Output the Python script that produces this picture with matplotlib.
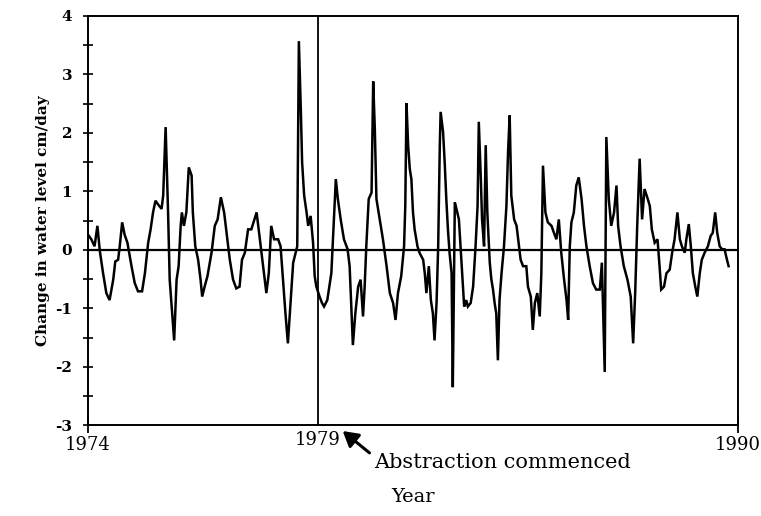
import numpy as np
import matplotlib
matplotlib.use("Agg")
import matplotlib.pyplot as plt
from matplotlib.ticker import MultipleLocator

# years after 1974 and change in water level (cm/day)
t = [0.02, 0.08, 0.16, 0.23, 0.29, 0.37, 0.45, 0.53, 0.62, 0.67, 0.74, 0.78, 0.84, 0.90, 0.97,
     1.07, 1.15, 1.23, 1.33, 1.40, 1.48, 1.54, 1.60, 1.66, 1.72, 1.81, 1.85, 1.91,
     1.97, 2.01, 2.07, 2.12, 2.18, 2.23, 2.28, 2.31, 2.36, 2.42, 2.48, 2.55, 2.58, 2.64, 2.71,
     2.77, 2.81, 2.87, 2.94, 3.04, 3.12, 3.19, 3.27, 3.35, 3.43, 3.49, 3.57, 3.65, 3.73, 3.79,
     3.86, 3.94,
     4.02, 4.15, 4.23, 4.31, 4.39, 4.45, 4.51, 4.58, 4.68, 4.74, 4.80, 4.86, 4.92, 4.99, 5.05,
     5.11, 5.15, 5.19, 5.24, 5.27, 5.32, 5.38, 5.42, 5.48, 5.54, 5.58, 5.62, 5.70, 5.76, 5.81,
     5.89,
     5.99, 6.06, 6.10, 6.15, 6.22, 6.30, 6.39, 6.44, 6.48, 6.52, 6.58, 6.65, 6.71, 6.77, 6.81,
     6.85, 6.91, 6.98, 7.02, 7.06, 7.10, 7.18, 7.26, 7.35, 7.43, 7.51, 7.57, 7.63, 7.71, 7.78,
     7.81, 7.84,
     7.88, 7.92, 7.96, 8.00, 8.04, 8.11, 8.16, 8.25, 8.29, 8.33, 8.39, 8.44, 8.49, 8.53, 8.58,
     8.62, 8.66, 8.68, 8.74, 8.78, 8.82, 8.86, 8.90, 8.95, 8.98, 9.03, 9.07, 9.13, 9.17, 9.21,
     9.26, 9.31, 9.35, 9.42, 9.48, 9.54, 9.59, 9.62, 9.67, 9.70, 9.75, 9.79, 9.83,
     9.89, 9.93, 9.97, 10.01, 10.05, 10.09, 10.13, 10.18, 10.24, 10.30, 10.34, 10.38, 10.42,
     10.49, 10.55, 10.59, 10.65, 10.71, 10.79, 10.83, 10.90, 10.95, 11.00, 11.06, 11.12, 11.16,
     11.20, 11.26, 11.32, 11.41, 11.47, 11.53, 11.59, 11.65, 11.72, 11.78,
     11.82, 11.86, 11.90, 11.96, 12.02, 12.08, 12.15, 12.21, 12.27, 12.35, 12.43, 12.51, 12.60,
     12.65, 12.72, 12.76, 12.82, 12.88, 12.95, 13.01, 13.05, 13.11, 13.19, 13.28, 13.36, 13.42,
     13.47, 13.52, 13.58, 13.64, 13.70, 13.78,
     13.83, 13.88, 13.95, 14.02, 14.07, 14.11, 14.18, 14.24, 14.32, 14.38, 14.44, 14.51, 14.57,
     14.62, 14.69, 14.73, 14.79, 14.84, 14.89, 14.95, 15.00, 15.06, 15.11, 15.18, 15.26, 15.33,
     15.38, 15.44, 15.49, 15.55, 15.61, 15.67, 15.73, 15.77]

level = [0.24, 0.18, 0.06, 0.41, -0.02, -0.40, -0.74, -0.86, -0.51, -0.20, -0.17, 0.06, 0.47, 0.26, 0.12,
         -0.28, -0.57, -0.71, -0.71, -0.40, 0.12, 0.35, 0.64, 0.84, 0.78, 0.70, 0.93, 2.10,
         0.64, -0.51, -1.09, -1.55, -0.51, -0.28, 0.41, 0.64, 0.41, 0.64, 1.41, 1.27, 0.64, 0.06, -0.17,
         -0.51, -0.80, -0.63, -0.45, -0.05, 0.41, 0.52, 0.90, 0.64, 0.18, -0.17, -0.51, -0.66, -0.63, -0.17,
         -0.05, 0.35,
         0.35, 0.64, 0.18, -0.28, -0.74, -0.40, 0.41, 0.18, 0.18, 0.06, -0.51, -1.09, -1.60, -0.86, -0.22,
         -0.05, 0.06, 3.57, 2.36, 1.50, 0.93, 0.64, 0.41, 0.58, 0.12, -0.45, -0.63, -0.80, -0.91, -0.97,
         -0.86,
         -0.40, 0.64, 1.21, 0.87, 0.52, 0.18, 0.01, -0.28, -0.97, -1.63, -1.09, -0.63, -0.51, -1.14, -0.63,
         0.06, 0.87, 0.98, 2.88, 2.07, 0.87, 0.52, 0.18, -0.28, -0.74, -0.91, -1.20, -0.74, -0.45, 0.06,
         0.75, 2.51,
         1.79, 1.39, 1.21, 0.64, 0.35, 0.06, -0.05, -0.17, -0.40, -0.74, -0.28, -0.86, -1.09, -1.55, -0.91,
         0.06, 1.79, 2.36, 2.02, 1.50, 0.87, 0.35, -0.05, -0.40, -2.35, 0.81, 0.70, 0.52, 0.06, -0.40,
         -0.97, -0.86, -0.97, -0.91, -0.63, 0.06, 0.75, 2.19, 1.21, 0.52, 0.06, 1.79, 0.64,
         -0.22, -0.51, -0.68, -0.91, -1.09, -1.89, -0.86, -0.40, 0.06, 0.75, 1.67, 2.30, 0.93,
         0.52, 0.41, 0.18, -0.17, -0.28, -0.28, -0.63, -0.80, -1.37, -0.91, -0.74, -1.14, -0.40,
         1.44, 0.64, 0.47, 0.41, 0.29, 0.18, 0.52, -0.05, -0.51, -0.86,
         -1.20, 0.06, 0.47, 0.64, 1.10, 1.24, 0.87, 0.41, 0.06, -0.28, -0.57, -0.68, -0.68,
         -0.22, -2.09, 1.93, 0.87, 0.41, 0.64, 1.10, 0.41, 0.06, -0.28, -0.51, -0.80, -1.60,
         -0.74, 0.41, 1.56, 0.52, 1.04, 0.87,
         0.75, 0.35, 0.12, 0.18, -0.28, -0.68, -0.63, -0.40, -0.34, -0.05, 0.18, 0.64, 0.18,
         0.06, -0.05, 0.18, 0.44, 0.06, -0.40, -0.63, -0.80, -0.40, -0.17, -0.05, 0.06, 0.24,
         0.29, 0.64, 0.29, 0.06, 0.01, 0.01, -0.17, -0.28]

start_year = 1974
abstraction_year = 1979.66
year_ticks = [1974, 1990]
yticks = [-3, -2, -1, 0, 1, 2, 3, 4]

years = start_year + np.array(t)

fig = plt.figure(figsize=(7.61, 5.16), dpi=100)
ax = fig.add_axes([0.1157, 0.176, 0.854, 0.793])

ax.plot(years, level, color="black", lw=1.8, solid_joinstyle="miter")
ax.axhline(0, color="black", lw=1.6)
ax.axvline(abstraction_year, color="black", lw=1.3)

ax.set_xlim(1974, 1990)
ax.set_ylim(-3, 4)

for s in ax.spines.values():
    s.set_linewidth(1.4)

ax.set_xticks(year_ticks)
ax.set_xticklabels([str(y) for y in year_ticks], family="DejaVu Serif", fontsize=13)
ax.tick_params(axis="x", direction="inout", length=12, width=1.3, pad=2)

ax.set_yticks(yticks)
ax.set_yticklabels([str(v) for v in yticks], family="DejaVu Serif", fontsize=11, fontweight="bold")
ax.yaxis.set_minor_locator(MultipleLocator(0.5))
ax.tick_params(axis="y", which="both", direction="inout", length=7, width=1.2, pad=8)

# "1979" label at the abstraction line
ax.text(abstraction_year, -3.1, "1979", ha="center", va="top",
        family="DejaVu Serif", fontsize=13)

ax.annotate("Abstraction commenced", xy=(1980.27, -3.1), xytext=(1981.05, -3.64),
            ha="left", va="center", family="DejaVu Serif", fontsize=15,
            annotation_clip=False,
            arrowprops=dict(arrowstyle="-|>,head_length=0.6,head_width=0.35",
                            color="black", lw=2.2, shrinkA=2, shrinkB=0,
                            relpos=(0, 0.8)))

ax.set_xlabel("Year", family="DejaVu Serif", fontsize=14, labelpad=24)
ax.set_ylabel("Change in water level cm/day", family="DejaVu Serif", fontsize=11,
              fontweight="bold", labelpad=4)

fig.savefig("out.png", dpi=100)
